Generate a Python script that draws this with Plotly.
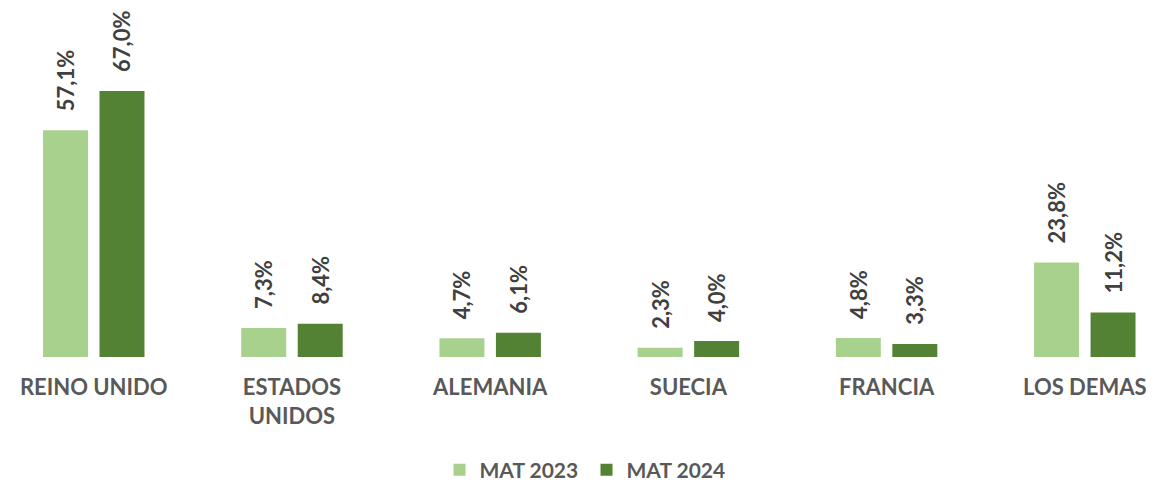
import plotly.graph_objects as go

categories = ["REINO UNIDO", "ESTADOS<br>UNIDOS", "ALEMANIA", "SUECIA", "FRANCIA", "LOS DEMAS"]
mat_2023 = [57.1, 7.3, 4.7, 2.3, 4.8, 23.8]
mat_2024 = [67.0, 8.4, 6.1, 4.0, 3.3, 11.2]
series_names = ["MAT 2023", "MAT 2024"]
colors = ["#A9D18E", "#548235"]

FONT = "Lato"

def fmt(v):
    return "\u00a0\u00a0\u00a0" + f"{v:.1f}".replace(".", ",") + "%"

fig = go.Figure()
for name, vals, col in zip(series_names, [mat_2023, mat_2024], colors):
    fig.add_trace(go.Bar(
        x=categories, y=vals, name=name,
        marker=dict(color=col, line=dict(width=0)),
        text=[fmt(v) for v in vals],
        textposition="outside", textangle=-90, constraintext="none",
        textfont=dict(family=FONT, size=22, color="#404040", weight="bold"),
        cliponaxis=False,
    ))

fig.update_layout(
    width=1173, height=484,
    margin=dict(l=0, r=0, t=0, b=127, autoexpand=False),
    paper_bgcolor="white", plot_bgcolor="white",
    barmode="group", bargap=0.43, bargroupgap=0.204,
    font=dict(family=FONT, color="#595959"),
    xaxis=dict(
        range=[-0.473, 5.445], showgrid=False, zeroline=False, showline=False,
        ticks="", ticklabelstandoff=15, automargin=False,
        tickfont=dict(family=FONT, size=22, color="#595959", weight="bold"),
    ),
    yaxis=dict(range=[0, 89.9], visible=False, automargin=False),
    legend=dict(
        orientation="h", x=0.5, xanchor="center",
        yref="container", y=14 / 484, yanchor="middle",
        font=dict(family=FONT, size=21, color="#595959", weight="bold"),
        itemwidth=30, entrywidth=102, entrywidthmode="pixels",
    ),
)

fig.write_html("out.html", post_script="document.body.style.margin='0';",
               config={"displayModeBar": False})
